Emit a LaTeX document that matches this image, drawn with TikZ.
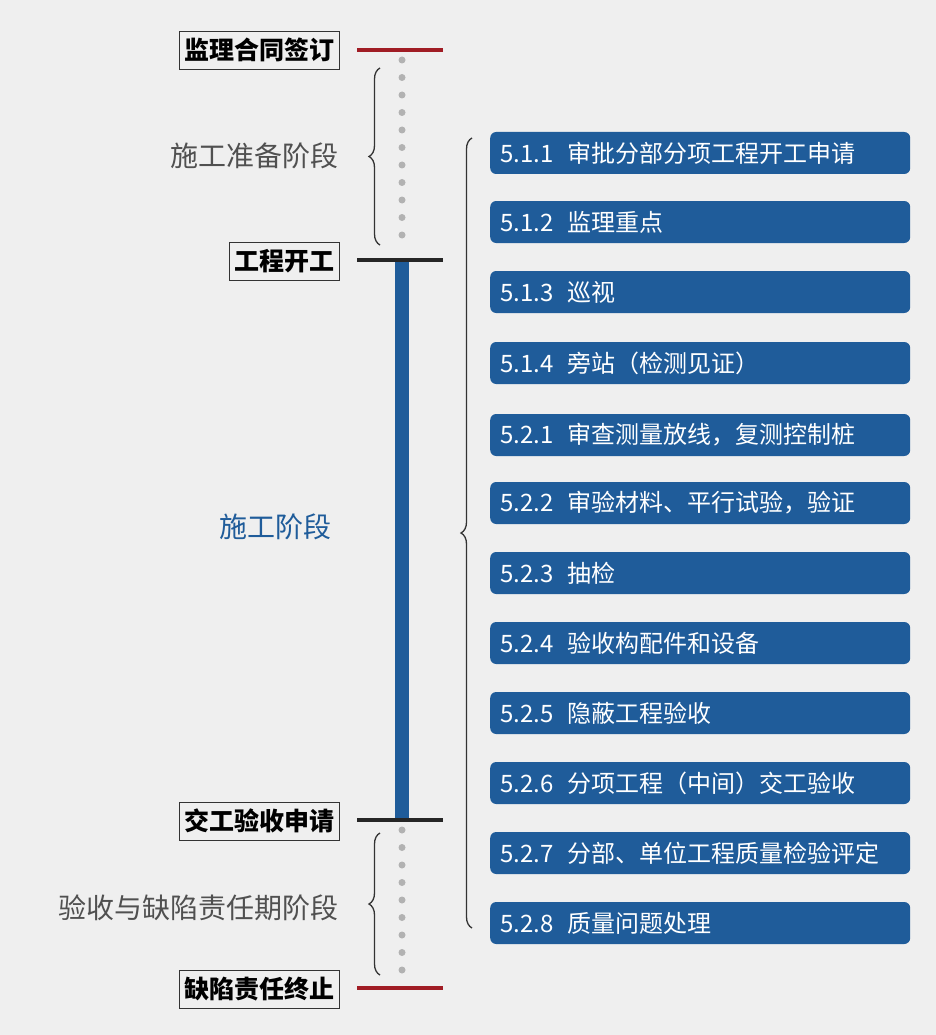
\documentclass[tikz,border=0pt]{standalone}
\usepackage{fontspec}
\setmainfont{Noto Sans CJK SC}
\usetikzlibrary{decorations.pathreplacing}
\definecolor{bg}{HTML}{EFEFEF}
\definecolor{blu}{HTML}{1F5C9A}
\definecolor{redl}{HTML}{A01C24}
\definecolor{txtg}{HTML}{505050}
\begin{document}
\begin{tikzpicture}[x=1pt,y=-1pt,
  mile/.style={draw=black!80,fill=bg,line width=0.8pt,font=\fontsize{25}{27}\selectfont\bfseries,inner xsep=5pt,minimum height=38pt,anchor=east},
  item/.style={fill=blu,rounded corners=6pt,text width=400pt,minimum height=42pt,text=white,font=\fontsize{24}{26}\selectfont,anchor=west,inner xsep=10pt,inner ysep=0pt,align=left},
  brc/.style={draw=black!80,line width=1.3pt,decorate,decoration={brace,amplitude=11pt,mirror}},
  dotl/.style={draw=black!30,line width=7pt,line cap=round,dash pattern=on 0pt off 17.5pt}]
\fill[bg] (0,0) rectangle (936,1035);
\useasboundingbox (0,0) rectangle (936,1035);
% timeline
\coordinate (t0) at (402,60); \coordinate (t1) at (402,252);
\coordinate (t2) at (402,830); \coordinate (t3) at (402,978);
\draw[dotl] (t0) -- (t1);
\draw[dotl] (t2) -- (t3);
\fill[blu] (395,260) rectangle (409,820);
\draw[redl,line width=4pt] (357,50) -- (443,50);
\draw[black!85,line width=4pt] (357,260) -- (443,260);
\draw[black!85,line width=4pt] (357,820) -- (443,820);
\draw[redl,line width=4pt] (357,988) -- (443,988);
% milestones
\node[mile] (m1) at (340,50) {监理合同签订};
\node[mile] (m2) at (340,261) {工程开工};
\node[mile] (m3) at (340,821) {交工验收申请};
\node[mile] (m4) at (340,989) {缺陷责任终止};
% braces
\coordinate (b1a) at (380,68); \coordinate (b1b) at (380,245);
\draw[brc] (b1a) -- (b1b);
\node[anchor=east,text=txtg,font=\fontsize{28}{30}\selectfont] (p1) at (342,156) {施工准备阶段};
\node[text=blu,font=\fontsize{28}{30}\selectfont] (p2) at (275,527) {施工阶段};
\coordinate (b2a) at (380,833); \coordinate (b2b) at (380,975);
\draw[brc] (b2a) -- (b2b);
\node[anchor=east,text=txtg,font=\fontsize{28}{30}\selectfont] (p3) at (342,908) {验收与缺陷责任期阶段};
\coordinate (b3a) at (472,138); \coordinate (b3b) at (472,928);
\draw[brc] (b3a) -- (b3b);
% items
\foreach \y/\t [count=\i] in {153/{5.1.1\hspace{14pt}审批分部分项工程开工申请},
  222/{5.1.2\hspace{14pt}监理重点},
  292/{5.1.3\hspace{14pt}巡视},
  363/{5.1.4\hspace{14pt}旁站（检测见证）},
  435/{5.2.1\hspace{14pt}审查测量放线，复测控制桩},
  503/{5.2.2\hspace{14pt}审验材料、平行试验，验证},
  573/{5.2.3\hspace{14pt}抽检},
  643/{5.2.4\hspace{14pt}验收构配件和设备},
  713/{5.2.5\hspace{14pt}隐蔽工程验收},
  783/{5.2.6\hspace{14pt}分项工程（中间）交工验收},
  853/{5.2.7\hspace{14pt}分部、单位工程质量检验评定},
  923/{5.2.8\hspace{14pt}质量问题处理}}
  {\node[item] (i\i) at (490,\y) {\t};}
\end{tikzpicture}
\end{document}
